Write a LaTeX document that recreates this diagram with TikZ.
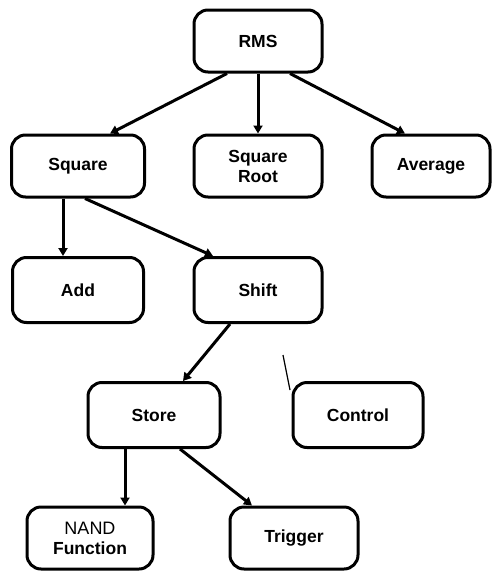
\documentclass[tikz,border=0pt]{standalone}
\usepackage{fontspec}
\setmainfont{Liberation Sans}
\usetikzlibrary{arrows.meta,positioning}

\begin{document}
\begin{tikzpicture}[
  x=1pt, y=-1pt,
  box/.style={rectangle, draw, line width=3pt, rounded corners=14pt, minimum width=128pt, minimum height=62pt, align=center, font=\fontsize{17.5}{20}\selectfont\bfseries},
  arr/.style={line width=3pt, -{Triangle[length=8pt,width=9pt]}},
]
  \useasboundingbox (0,0) rectangle (493,573);

  \node[box] (rms) at (258,41) {RMS};

  \node[box, minimum width=133pt] (square) at (78,166) {Square};
  \node[box] (sqroot) at (258,166) {Square\\Root};
  \node[box, minimum width=118pt] (average) at (431,166) {Average};

  \node[box, minimum width=131pt, minimum height=65pt] (add) at (78,290) {Add};
  \node[box, minimum height=65pt] (shift) at (258,290) {Shift};

  \node[box, minimum width=132pt, minimum height=65pt] (store) at (154,415) {Store};
  \node[box, minimum width=130pt, minimum height=65pt] (control) at (358,415) {Control};

  \node[box, minimum width=126pt] (nand) at (90,538) {{\mdseries\fontsize{18}{18}\selectfont NAND}\\Function};
  \node[box] (trigger) at (294,538) {Trigger};

  % top level
  \draw[arr] ([xshift=-31pt]rms.south) -- ([xshift=32pt]square.north);
  \draw[arr] (rms.south) -- (sqroot.north);
  \draw[arr] ([xshift=32pt]rms.south) -- ([xshift=-26pt]average.north);

  % under Square
  \draw[arr] ([xshift=-15pt]square.south) -- ([xshift=-15pt]add.north);
  \draw[arr] ([xshift=7pt]square.south) -- ([xshift=-45pt]shift.north);

  % under Shift and Store
  \draw[arr] ([xshift=-28pt]shift.south) -- ([xshift=29pt]store.north);
  \draw[arr] ([xshift=-29pt]store.south) -- ([xshift=35pt]nand.north);
  \draw[arr] ([xshift=26pt]store.south) -- ([xshift=-42pt]trigger.north);

  \coordinate (tick a) at (283,355);
  \coordinate (tick b) at (290,390);
  \draw[line width=1.2pt] (tick a) -- (tick b);
\end{tikzpicture}
\end{document}
